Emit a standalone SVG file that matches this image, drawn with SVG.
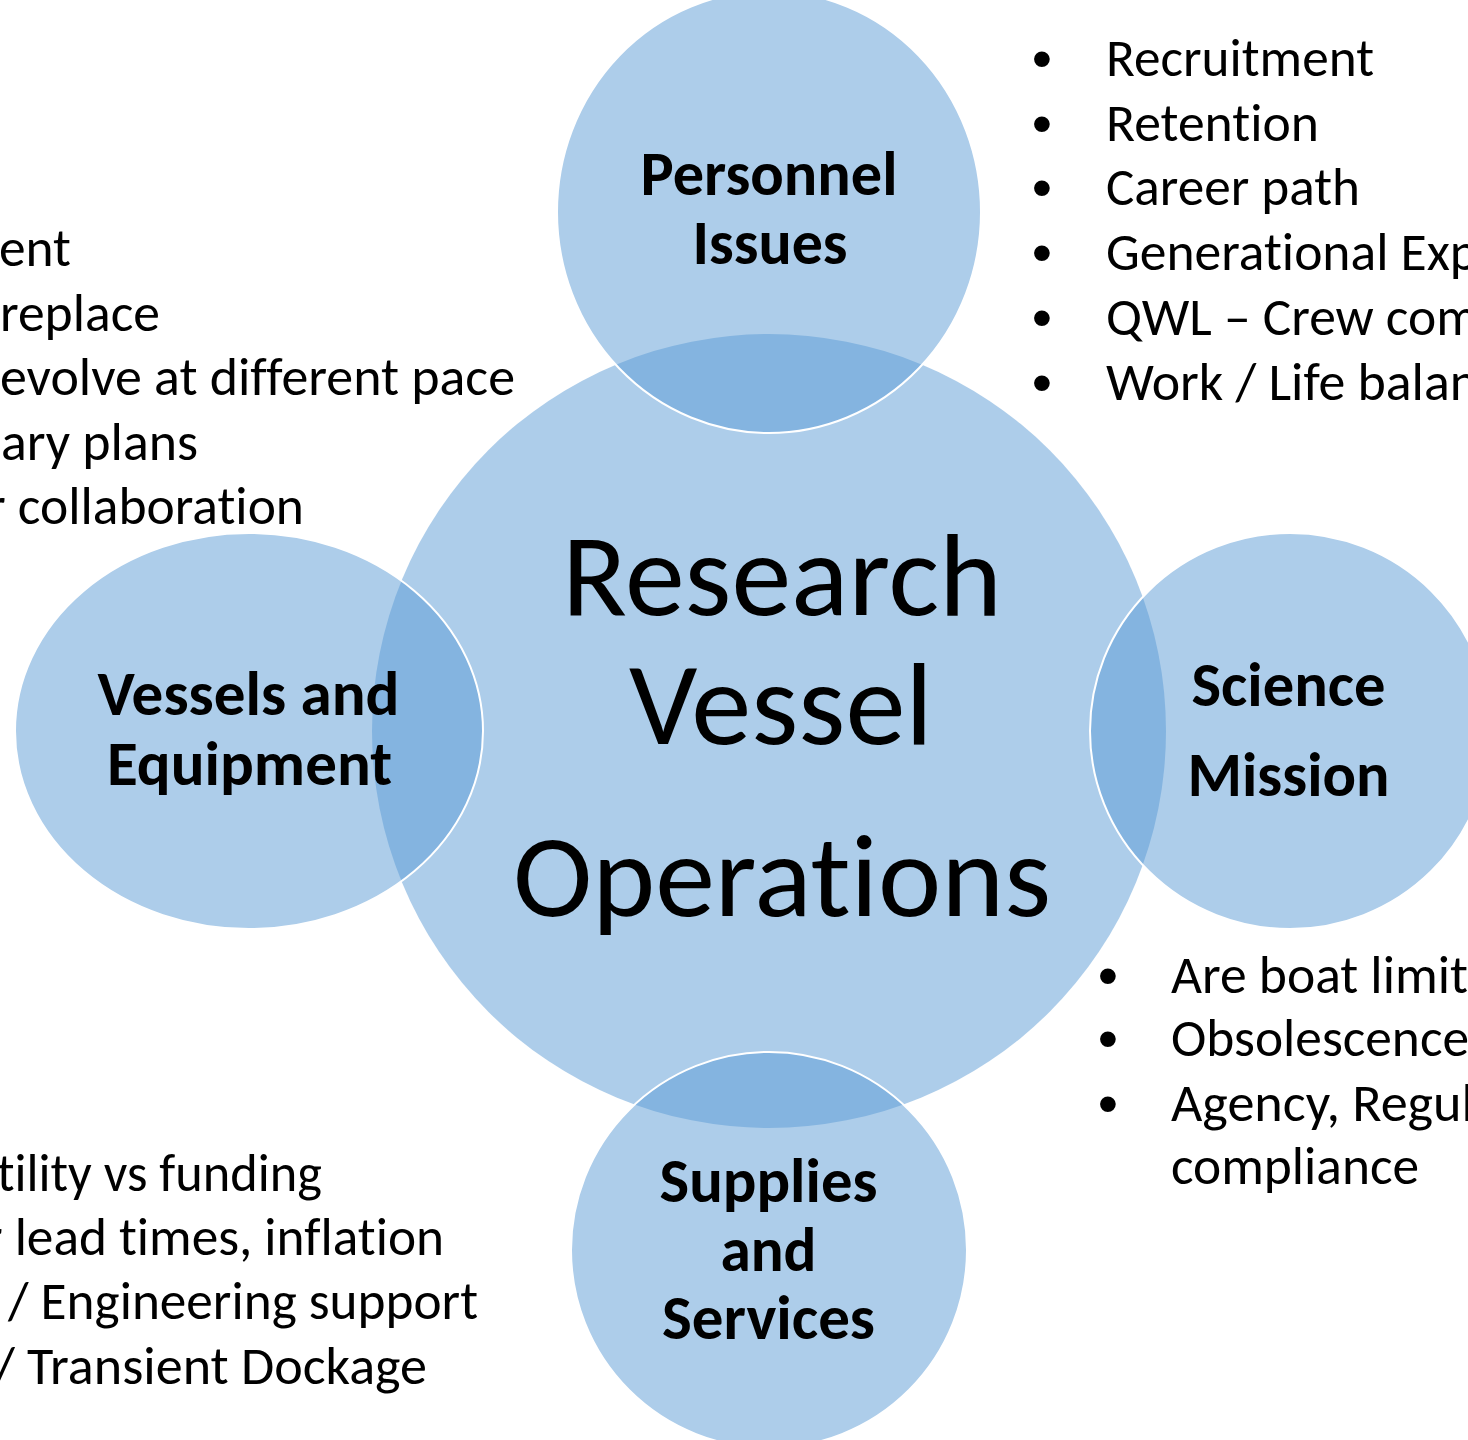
<svg xmlns="http://www.w3.org/2000/svg" width="1468" height="1440" viewBox="0 0 1468 1440">
  <style>
    text { font-variant-ligatures: none; font-feature-settings: "liga" 0, "clig" 0, "dlig" 0; }
    .hub { fill: #5B9BD5; fill-opacity: 0.5; }
    .sat { fill: #5B9BD5; fill-opacity: 0.5; stroke: #FFFFFF; stroke-width: 2; }
    .title { font-family: Carlito, Lato, "Open Sans", sans-serif; font-size: 118px; fill: #000; text-anchor: middle; }
    .label { font-family: Carlito, Lato, "Open Sans", sans-serif; font-size: 62px; font-weight: bold; fill: #000; text-anchor: middle; }
    .note { font-family: Carlito, Lato, "Open Sans", sans-serif; font-size: 53.3px; fill: #000; }
    .bullet { font-family: "Liberation Sans", Arial, sans-serif; font-size: 58px; fill: #000; text-anchor: middle; }
  </style>
  <rect x="0" y="0" width="1468" height="1440" fill="#FFFFFF"/>

  <g id="node-research-vessel-operations">
    <circle class="hub" cx="769" cy="731" r="397"/>
  </g>

  <g id="node-personnel-issues">
    <ellipse class="sat" cx="769" cy="212" rx="212" ry="221"/>
    <text class="label" x="769" y="195" textLength="257" lengthAdjust="spacingAndGlyphs">Personnel</text>
    <text class="label" x="770" y="264" textLength="155" lengthAdjust="spacingAndGlyphs">Issues</text>
  </g>

  <g id="node-vessels-equipment">
    <ellipse class="sat" cx="249" cy="731" rx="234" ry="198"/>
    <text class="label" x="248.5" y="715" textLength="302" lengthAdjust="spacingAndGlyphs">Vessels and</text>
    <text class="label" x="249.5" y="785" textLength="285" lengthAdjust="spacingAndGlyphs">Equipment</text>
  </g>

  <g id="node-science-mission">
    <ellipse class="sat" cx="1290" cy="731" rx="200" ry="198"/>
    <text class="label" x="1288.5" y="706" textLength="194" lengthAdjust="spacingAndGlyphs">Science</text>
    <text class="label" x="1288.5" y="796" textLength="202" lengthAdjust="spacingAndGlyphs">Mission</text>
  </g>

  <g id="node-supplies-services">
    <circle class="sat" cx="769" cy="1250" r="198"/>
    <text class="label" x="768.5" y="1202" textLength="218" lengthAdjust="spacingAndGlyphs">Supplies</text>
    <text class="label" x="768.5" y="1271" textLength="96" lengthAdjust="spacingAndGlyphs">and</text>
    <text class="label" x="768.5" y="1339" textLength="213" lengthAdjust="spacingAndGlyphs">Services</text>
  </g>

  <g id="hub-title">
    <text class="title" x="782" y="615" textLength="440" lengthAdjust="spacingAndGlyphs">Research</text>
    <text class="title" x="781" y="744" textLength="304" lengthAdjust="spacingAndGlyphs">Vessel</text>
    <text class="title" x="782" y="916" textLength="538" lengthAdjust="spacingAndGlyphs">Operations</text>
  </g>

  <g id="connectors"></g>

  <g id="notes-personnel">
    <text class="bullet" x="1042" y="78">•</text>
    <text class="bullet" x="1042" y="142.7">•</text>
    <text class="bullet" x="1042" y="207.4">•</text>
    <text class="bullet" x="1042" y="272.1">•</text>
    <text class="bullet" x="1042" y="336.8">•</text>
    <text class="bullet" x="1042" y="401.5">•</text>
    <text class="note" x="1106" y="76" textLength="268" lengthAdjust="spacingAndGlyphs">Recruitment</text>
    <text class="note" x="1106" y="140.7" textLength="213" lengthAdjust="spacingAndGlyphs">Retention</text>
    <text class="note" x="1106" y="205.4" textLength="254" lengthAdjust="spacingAndGlyphs">Career path</text>
    <text class="note" x="1106" y="270.1" textLength="372" lengthAdjust="spacingAndGlyphs">Generational Exp</text>
    <text class="note" x="1106" y="334.8" textLength="373" lengthAdjust="spacingAndGlyphs">QWL – Crew com</text>
    <text class="note" x="1106" y="399.5" textLength="372" lengthAdjust="spacingAndGlyphs">Work / Life balan</text>
  </g>

  <g id="notes-vessels">
    <text class="note" x="-1" y="266" textLength="72" lengthAdjust="spacingAndGlyphs">ent</text>
    <text class="note" x="0" y="330.5" textLength="160" lengthAdjust="spacingAndGlyphs">replace</text>
    <text class="note" x="0" y="395" textLength="515" lengthAdjust="spacingAndGlyphs">evolve at different pace</text>
    <text class="note" x="1" y="459.5" textLength="197" lengthAdjust="spacingAndGlyphs">ary plans</text>
    <text class="note" x="-13" y="524" textLength="317" lengthAdjust="spacingAndGlyphs">r collaboration</text>
  </g>

  <g id="notes-supplies">
    <text class="note" x="-3" y="1191" textLength="325" lengthAdjust="spacingAndGlyphs">tility vs funding</text>
    <text class="note" x="-16" y="1255" textLength="460" lengthAdjust="spacingAndGlyphs">r lead times, inflation</text>
    <text class="note" x="8" y="1319" textLength="470" lengthAdjust="spacingAndGlyphs">/ Engineering support</text>
    <text class="note" x="-6" y="1384" textLength="433" lengthAdjust="spacingAndGlyphs">/ Transient Dockage</text>
  </g>

  <g id="notes-science">
    <text class="bullet" x="1108" y="995">•</text>
    <text class="bullet" x="1108" y="1058">•</text>
    <text class="bullet" x="1108" y="1123">•</text>
    <text class="note" x="1171" y="993" textLength="297" lengthAdjust="spacingAndGlyphs">Are boat limit</text>
    <text class="note" x="1171" y="1056" textLength="298" lengthAdjust="spacingAndGlyphs">Obsolescence</text>
    <text class="note" x="1171" y="1121" textLength="303" lengthAdjust="spacingAndGlyphs">Agency, Regul</text>
    <text class="note" x="1171" y="1184" textLength="248" lengthAdjust="spacingAndGlyphs">compliance</text>
  </g>
</svg>
